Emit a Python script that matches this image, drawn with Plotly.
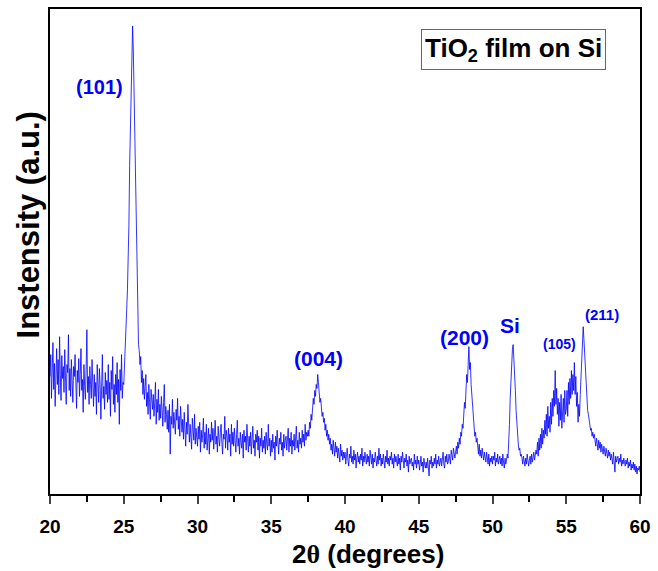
import plotly.graph_objects as go

# 2-theta grid start/step (degrees) and intensity values (a.u.) at 0.05 deg steps
two_theta_start = 20.0
two_theta_step = 0.05
intensity = [
    118, 140, 96, 128, 152, 105, 131, 88, 122, 146,     # 20.0
    110, 135, 100, 158, 120, 94, 139, 116, 128, 102,    # 20.5
    145, 112, 90, 130, 122, 160, 104, 126, 98, 135,     # 21.0
    108, 92, 128, 118, 140, 100, 86, 124, 112, 136,     # 21.5
    98, 120, 146, 104, 115, 82, 130, 108, 95, 125,      # 22.0
    165, 102, 118, 90, 128, 110, 96, 135, 105, 88,      # 22.5
    120, 98, 112, 80, 130, 104, 92, 126, 110, 75,       # 23.0
    118, 140, 96, 108, 85, 122, 100, 114, 92, 130,      # 23.5
    95, 112, 78, 124, 105, 138, 90, 110, 82, 120,       # 24.0
    100, 132, 92, 115, 70, 125, 104, 140, 96, 112,      # 24.5
    110, 125, 145, 165, 185, 205, 235, 270, 330, 375,   # 25.0
    420, 455, 470, 445, 400, 350, 290, 245, 200, 170,   # 25.5
    150, 144, 130, 138, 112, 124, 100, 116, 95, 108,    # 26.0
    120, 88, 102, 80, 110, 92, 75, 105, 98, 85,         # 26.5
    100, 78, 92, 112, 70, 95, 82, 105, 74, 90,          # 27.0
    76, 98, 85, 68, 92, 110, 72, 88, 80, 65,            # 27.5
    84, 62, 90, 40, 78, 70, 95, 66, 82, 72,             # 28.0
    60, 85, 74, 96, 65, 78, 58, 88, 70, 62,             # 28.5
    75, 55, 82, 68, 48, 72, 60, 90, 64, 52,             # 29.0
    70, 58, 45, 76, 62, 54, 80, 50, 66, 58,             # 29.5
    48, 68, 55, 72, 42, 64, 52, 60, 76, 46,             # 30.0
    62, 50, 70, 44, 58, 66, 40, 60, 52, 72,             # 30.5
    54, 66, 45, 60, 74, 50, 58, 42, 68, 56,             # 31.0
    48, 62, 70, 52, 40, 60, 55, 78, 46, 64,             # 31.5
    58, 44, 66, 52, 60, 38, 70, 50, 62, 48,             # 32.0
    66, 54, 42, 60, 74, 48, 56, 40, 62, 52,             # 32.5
    46, 60, 36, 64, 52, 58, 44, 70, 50, 42,             # 33.0
    58, 48, 62, 40, 55, 68, 46, 54, 38, 60,             # 33.5
    52, 64, 44, 58, 36, 56, 48, 66, 42, 54,             # 34.0
    46, 58, 40, 62, 50, 44, 70, 48, 56, 38,             # 34.5
    54, 42, 60, 46, 52, 34, 58, 48, 64, 44,             # 35.0
    40, 56, 50, 62, 44, 52, 38, 60, 46, 54,             # 35.5
    58, 44, 52, 66, 42, 56, 48, 62, 40, 54,             # 36.0
    48, 60, 44, 56, 68, 46, 54, 42, 62, 50,             # 36.5
    56, 46, 64, 52, 60, 48, 70, 54, 62, 58,             # 37.0
    64, 58, 72, 66, 80, 74, 88, 96, 90, 104,            # 37.5
    98, 110, 106, 120, 112, 102, 92, 96, 84, 78,        # 38.0
    82, 72, 76, 64, 70, 58, 64, 54, 60, 50,             # 38.5
    56, 44, 50, 40, 54, 46, 38, 52, 42, 48,             # 39.0
    36, 46, 40, 32, 50, 38, 44, 34, 42, 36,             # 39.5
    42, 30, 38, 46, 34, 28, 40, 36, 48, 32,             # 40.0
    38, 30, 44, 34, 40, 26, 36, 42, 32, 38,             # 40.5
    30, 40, 34, 46, 28, 38, 32, 42, 36, 30,             # 41.0
    40, 32, 38, 28, 44, 34, 30, 40, 26, 36,             # 41.5
    32, 42, 36, 28, 38, 30, 46, 34, 40, 28,             # 42.0
    36, 30, 40, 34, 26, 38, 32, 44, 30, 36,             # 42.5
    28, 38, 34, 42, 30, 36, 26, 40, 32, 38,             # 43.0
    34, 28, 40, 30, 36, 24, 38, 32, 42, 30,             # 43.5
    26, 36, 32, 40, 28, 34, 22, 38, 30, 34,             # 44.0
    36, 28, 32, 24, 40, 30, 34, 26, 38, 30,             # 44.5
    34, 24, 30, 38, 28, 32, 22, 36, 30, 26,             # 45.0
    32, 26, 36, 28, 18, 34, 30, 38, 26, 32,             # 45.5
    28, 36, 30, 40, 26, 34, 30, 38, 28, 32,             # 46.0
    36, 28, 34, 42, 30, 26, 38, 32, 40, 30,             # 46.5
    32, 40, 36, 30, 44, 38, 34, 46, 40, 36,             # 47.0
    42, 48, 40, 52, 46, 56, 50, 62, 58, 70,             # 47.5
    66, 80, 92, 86, 104, 120, 112, 135, 148, 125,       # 48.0
    132, 110, 98, 84, 74, 66, 58, 62, 52, 56,           # 48.5
    48, 40, 50, 38, 44, 36, 46, 40, 34, 42,             # 49.0
    38, 32, 42, 34, 30, 40, 28, 36, 32, 38,             # 49.5
    30, 38, 34, 42, 28, 36, 32, 40, 30, 34,             # 50.0
    38, 30, 36, 28, 40, 32, 26, 36, 30, 34,             # 50.5
    40, 36, 50, 70, 96, 118, 130, 145, 150, 138,        # 51.0
    128, 104, 84, 68, 58, 50, 44, 46, 38, 40,           # 51.5
    36, 30, 38, 32, 28, 36, 30, 40, 34, 28,             # 52.0
    34, 38, 30, 40, 32, 36, 42, 34, 40, 44,             # 52.5
    40, 52, 38, 56, 44, 60, 46, 66, 50, 64,             # 53.0
    56, 74, 60, 80, 58, 88, 66, 78, 62, 92,             # 53.5
    70, 96, 78, 104, 88, 124, 90, 106, 80, 96,          # 54.0
    68, 92, 74, 100, 66, 88, 96, 72, 104, 80,           # 54.5
    84, 104, 78, 112, 90, 116, 96, 124, 100, 120,       # 55.0
    104, 132, 100, 118, 88, 102, 72, 90, 78, 100,       # 55.5
    115, 138, 160, 168, 155, 140, 118, 100, 92, 84,     # 56.0
    80, 74, 70, 64, 66, 58, 62, 56, 60, 54,             # 56.5
    48, 56, 50, 44, 54, 46, 52, 42, 50, 46,             # 57.0
    40, 48, 42, 38, 46, 40, 36, 44, 38, 42,             # 57.5
    34, 40, 36, 30, 42, 34, 22, 38, 32, 36,             # 58.0
    38, 30, 36, 32, 40, 28, 34, 30, 36, 32,             # 58.5
    28, 34, 30, 36, 26, 32, 28, 34, 24, 30,             # 59.0
    26, 32, 24, 30, 22, 28, 20, 26, 24, 28,             # 59.5
    22,                                                 # 60.0
]
two_theta = [round(two_theta_start + i * two_theta_step, 3) for i in range(len(intensity))]

# peak labels
peak_labels = ["(101)", "(004)", "(200)", "Si", "(105)", "(211)"]
peak_label_x = [23.37, 38.2, 48.1, 51.2, 54.55, 57.44]
peak_label_y = [409, 136, 157, 169, 151, 180]
peak_label_size = [20, 21, 21, 21, 14, 15]

x_ticks = [20, 25, 30, 35, 40, 45, 50, 55, 60]

FONT = "Liberation Sans, Arial"

fig = go.Figure()
fig.add_trace(go.Scatter(
    x=two_theta, y=intensity, mode="lines",
    line=dict(color="rgba(0,0,255,0.8)", width=1.0),
    showlegend=False,
))

for t, xx, yy, s in zip(peak_labels, peak_label_x, peak_label_y, peak_label_size):
    fig.add_annotation(x=xx, y=yy, text=t, showarrow=False,
                       font=dict(family=FONT, size=s, color="#0000ff", weight="bold"))

# legend-like box
fig.add_annotation(
    x=0.786, y=0.916, xref="paper", yref="paper", xanchor="center", yanchor="middle",
    text="TiO<sub>2</sub> film on Si", showarrow=False,
    font=dict(family=FONT, size=26, color="black", weight="bold"),
    bordercolor="#666666", borderwidth=1, borderpad=3, bgcolor="white",
)

# axis titles
fig.add_annotation(
    x=0.539, y=-0.123, xref="paper", yref="paper", xanchor="center", yanchor="middle",
    text="2<span style='font-family:Liberation Serif'>θ</span> (degrees)", showarrow=False,
    font=dict(family=FONT, size=26, color="black", weight="bold"),
)
fig.add_annotation(
    x=-0.037, y=0.554, xref="paper", yref="paper", xanchor="center", yanchor="middle",
    text="Instensity (a.u.)", showarrow=False, textangle=-90,
    font=dict(family=FONT, size=31, color="black", weight="bold"),
)

axis_font = dict(family=FONT, size=19, color="black", weight="bold")
fig.update_layout(
    width=658, height=571,
    margin=dict(l=50, r=14, t=7, b=77),
    plot_bgcolor="white", paper_bgcolor="white",
    xaxis=dict(
        range=[20, 60], tickvals=x_ticks, ticks="outside", ticklen=8, tickwidth=2,
        showline=True, linecolor="black", linewidth=2, mirror=True,
        showgrid=False, zeroline=False, tickfont=axis_font, ticklabelstandoff=6,
        minor=dict(dtick=2.5, tick0=20, ticks="outside", ticklen=6, tickwidth=2, tickcolor="black"),
    ),
    yaxis=dict(
        range=[0, 487], showticklabels=False, ticks="",
        showline=True, linecolor="black", linewidth=2, mirror=True,
        showgrid=False, zeroline=False,
    ),
)

fig.write_html("out.html")
